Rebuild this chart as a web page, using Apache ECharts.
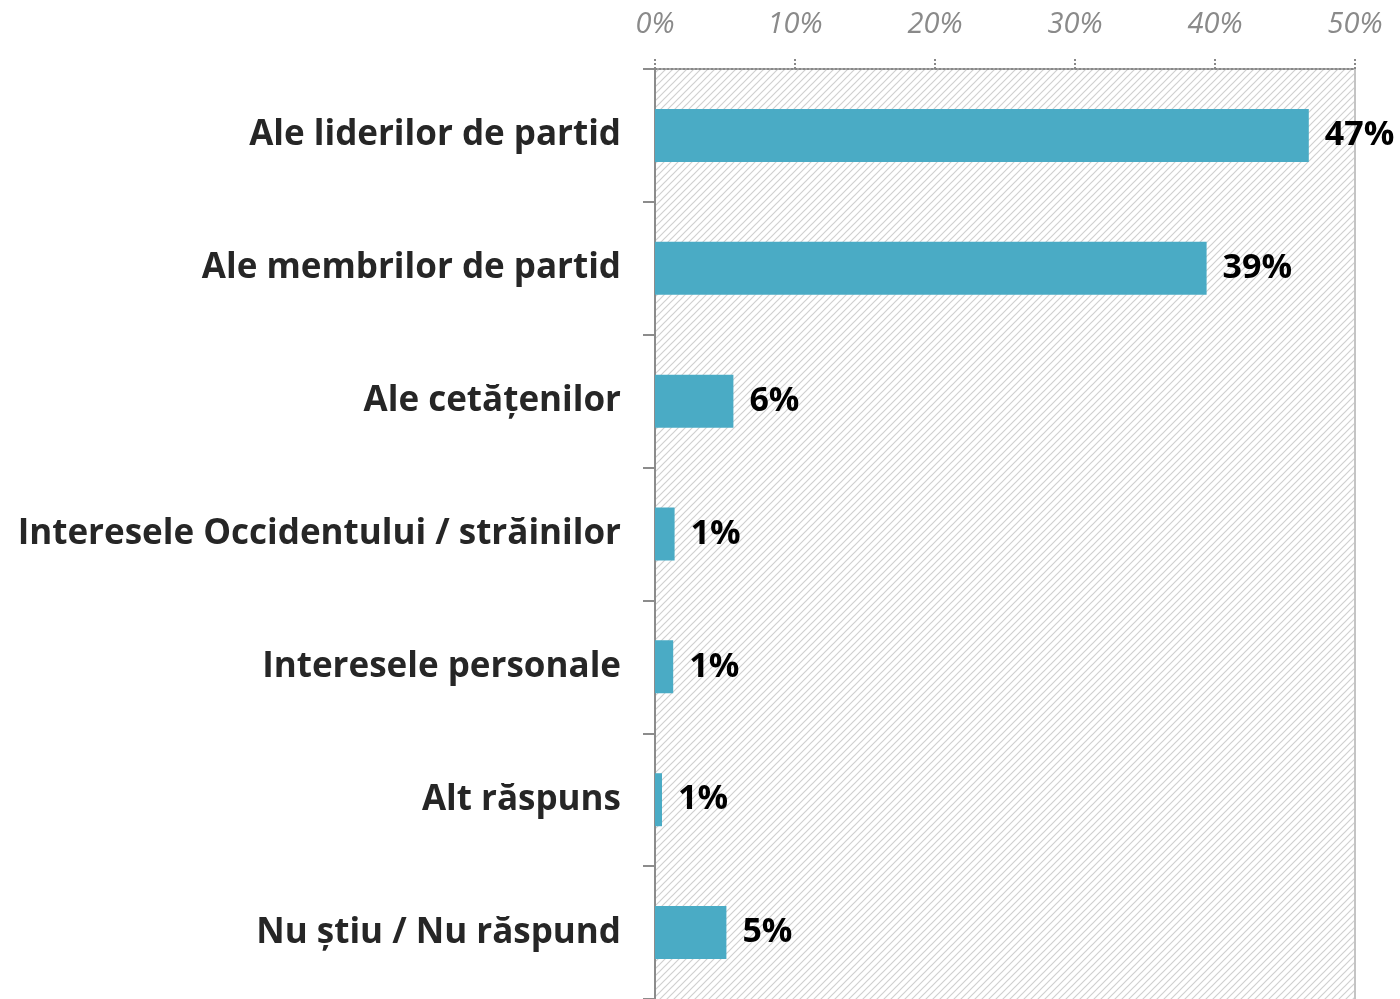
<!DOCTYPE html>
<html>
<head>
<meta charset="utf-8">
<script src="https://cdn.jsdelivr.net/npm/echarts@6/dist/echarts.min.js"></script>
<style>
  html, body { margin: 0; padding: 0; background: #fff; }
  #chart { width: 1400px; height: 999px; }
</style>
</head>
<body>
<div id="chart"></div>
<script>
const categories = [
  'Ale liderilor de partid',
  'Ale membrilor de partid',
  'Ale cetățenilor',
  'Interesele Occidentului / străinilor',
  'Interesele personale',
  'Alt răspuns',
  'Nu știu / Nu răspund'
];
const values = [46.7, 39.4, 5.6, 1.4, 1.3, 0.5, 5.1];
const valueLabels = ['47%', '39%', '6%', '1%', '1%', '1%', '5%'];
const xTicks = [0, 10, 20, 30, 40, 50];

const FONT = '"Open Sans", sans-serif';

// hatched background for the plot area
const P = 7;
const hatch = document.createElement('canvas');
hatch.width = P;
hatch.height = P;
const hctx = hatch.getContext('2d');
hctx.fillStyle = '#ffffff';
hctx.fillRect(0, 0, P, P);
hctx.strokeStyle = '#d0d0d0';
hctx.lineWidth = 1.2;
hctx.beginPath();
hctx.moveTo(0, P); hctx.lineTo(P, 0);
hctx.moveTo(-P, P); hctx.lineTo(P, -P);
hctx.moveTo(0, 2 * P); hctx.lineTo(2 * P, 0);
hctx.stroke();

const chart = echarts.init(document.getElementById('chart'));
chart.setOption({
  animation: false,
  backgroundColor: '#ffffff',
  grid: {
    left: 655, top: 69, width: 700, height: 934,
    show: true,
    backgroundColor: { image: hatch, repeat: 'repeat' },
    borderWidth: 0
  },
  xAxis: {
    type: 'value',
    position: 'top',
    min: xTicks[0],
    max: xTicks[xTicks.length - 1],
    interval: 10,
    axisLine: { show: true, lineStyle: { color: '#888', type: 'dotted', width: 2 } },
    axisTick: { show: true, length: 10, lineStyle: { color: '#888', type: 'dotted', width: 2 } },
    splitLine: { show: false },
    axisLabel: {
      formatter: '{value}%',
      fontFamily: FONT,
      fontStyle: 'italic',
      fontSize: 29,
      color: '#8a8a8a',
      margin: 30
    }
  },
  yAxis: [{
    type: 'category',
    data: categories,
    inverse: true,
    axisLine: { show: true, lineStyle: { color: '#8c8c8c', width: 2 } },
    axisTick: { show: true, length: 12, lineStyle: { color: '#8c8c8c', width: 2 } },
    axisLabel: {
      fontFamily: FONT,
      fontWeight: 'bold',
      fontSize: 35,
      color: '#262626',
      margin: 34
    }
  }, {
    type: 'category',
    data: categories,
    inverse: true,
    position: 'right',
    axisLine: { show: true, lineStyle: { color: '#c4c4c4', width: 2 } },
    axisTick: { show: false },
    axisLabel: { show: false }
  }],
  series: [{
    type: 'bar',
    data: values,
    barWidth: 53,
    itemStyle: { color: '#4aabc5' },
    label: {
      show: true,
      position: 'right',
      distance: 16,
      formatter: p => valueLabels[p.dataIndex],
      fontFamily: FONT,
      fontWeight: 'bold',
      fontSize: 34,
      color: '#000'
    }
  }]
});
</script>
</body>
</html>
